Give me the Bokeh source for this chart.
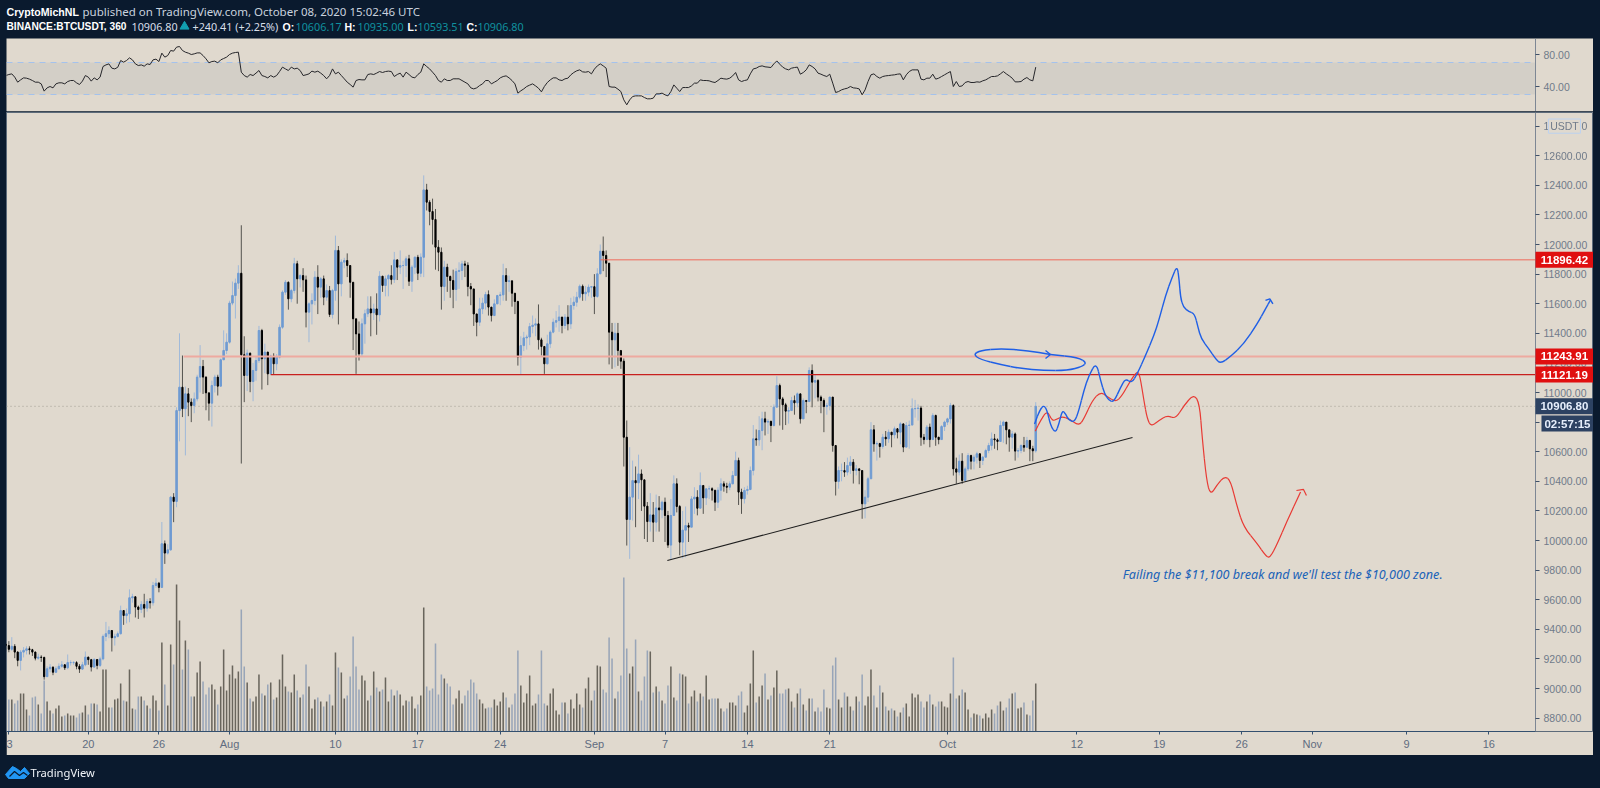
from bokeh.plotting import figure
from bokeh.layouts import column
from bokeh.core.properties import value
from bokeh.models import (Range1d, LinearAxis, FixedTicker, NumeralTickFormatter, Label,
                          BoxAnnotation)
from bokeh.embed import file_html
from bokeh.resources import INLINE

# ---- 6h bars, from 13 Jul 2020; days counted from 1 Aug 2020 ----
closes = [
 9290,9265,9285,9246,9190,9246,9258,9268,9262,9246,
 9205,9212,9210,9080,9133,9144,9110,9133,9150,9160,
 9140,9175,9175,9175,9150,9131,9160,9212,9195,9145,
 9196,9156,9200,9352,9370,9392,9343,9352,9370,9527,
 9493,9505,9613,9620,9550,9534,9568,9543,9588,9579,
 9696,9712,9683,9978,9915,9937,10293,10264,10878,11036,
 10890,10991,10935,10912,10957,11104,11176,11104,10998,10928,
 11047,11104,11043,11221,11284,11340,11604,11655,11739,11806,
 11255,11115,11266,11074,11149,11216,11419,11228,11273,11126,
 11246,11194,11239,11441,11678,11745,11633,11689,11870,11768,
 11790,11761,11543,11599,11622,11779,11712,11768,11644,11689,
 11527,11689,11960,11734,11881,11892,11858,11745,11498,11396,
 11261,11464,11532,11565,11538,11565,11525,11786,11723,11768,
 11790,11763,11896,11847,11858,11858,11903,11752,11847,11914,
 11806,11914,12369,12286,12223,12169,11982,11948,11716,11847,
 11784,11757,11696,11818,11825,11869,11860,11716,11700,11531,
 11475,11565,11604,11662,11577,11520,11599,11655,11660,11790,
 11750,11755,11671,11615,11239,11317,11369,11375,11446,11455,
 11464,11356,11311,11194,11329,11408,11475,11486,11510,11453,
 11509,11464,11588,11610,11644,11718,11667,11678,11712,11715,
 11649,11802,11955,11926,11874,11408,11356,11400,11284,11212,
 10698,10142,10293,10405,10390,10450,10410,10232,10128,10173,
 10124,10220,10207,10259,10169,9969,10169,10383,10230,9989,
 10070,10101,10090,10281,10293,10218,10372,10288,10349,10350,
 10340,10259,10340,10383,10367,10360,10383,10439,10541,10327,
 10282,10338,10345,10473,10687,10680,10743,10822,10800,10805,
 10777,10901,11047,10957,10917,10874,10878,10946,10930,10991,
 10822,10946,10939,11149,11070,11081,10969,10946,10905,10912,
 10969,10642,10399,10473,10473,10462,10507,10529,10473,10484,
 10473,10248,10293,10417,10748,10653,10655,10635,10698,10687,
 10732,10714,10755,10732,10788,10631,10777,10780,10890,10892,
 10895,10698,10682,10766,10682,10845,10698,10682,10770,10800,
 10822,10912,10484,10462,10536,10406,10484,10574,10536,10563,
 10586,10541,10563,10608,10642,10687,10680,10669,10777,10800,
 10748,10698,10720,10604,10608,10642,10630,10676,10620,10606,
 10906.8]

highs = [
 9310,9320,9347,9300,9252,9260,9280,9285,9285,9268,
 9250,9235,9225,9215,9150,9165,9150,9150,9170,9185,
 9165,9230,9190,9185,9185,9165,9180,9250,9215,9200,
 9205,9190,9215,9365,9450,9420,9395,9370,9385,9560,
 9530,9540,9670,9640,9620,9560,9590,9640,9605,9610,
 9720,9745,9720,10125,10000,9975,10300,10320,10900,11400,
 11250,11040,11030,10960,11000,11120,11320,11220,11110,10990,
 11080,11120,11120,11230,11420,11400,11620,11750,11770,11860,
 12130,11380,11290,11270,11200,11240,11450,11430,11330,11275,
 11255,11265,11260,11460,11690,11760,11750,11700,11910,11890,
 11800,11840,11790,11610,11670,11820,11860,11780,11790,11730,
 11720,11700,12060,11990,11900,11910,11940,11790,11640,11450,
 11480,11500,11560,11650,11650,11600,11670,11820,11780,11790,
 11800,11860,11950,11900,11960,11890,11920,11930,11860,11920,
 11930,11940,12467,12410,12300,12310,12240,12030,11980,11890,
 11870,11790,11830,11840,11880,11890,11890,11880,11740,11600,
 11530,11640,11640,11680,11690,11560,11630,11660,11680,11870,
 11840,11790,11730,11640,11620,11380,11410,11390,11470,11520,
 11500,11595,11370,11260,11390,11420,11500,11550,11590,11510,
 11530,11590,11640,11650,11680,11730,11730,11720,11730,11720,
 11800,11840,12000,12054,11960,11460,11470,11470,11470,11230,
 11230,10811,10631,10540,10500,10580,10480,10300,10260,10320,
 10260,10310,10300,10270,10290,10200,10280,10440,10420,10240,
 10200,10230,10120,10300,10360,10340,10460,10370,10350,10370,
 10360,10300,10360,10420,10400,10390,10400,10470,10600,10560,
 10350,10360,10370,10500,10780,10750,10840,10870,10870,10820,
 10810,10920,11110,11060,10970,10930,10900,10970,10980,11000,
 10990,10960,10950,11170,11190,11120,11090,10980,10960,10930,
 10970,10970,10480,10500,10520,10530,10560,10570,10550,10510,
 10490,10430,10340,10430,10800,10780,10670,10660,10720,10740,
 10750,10730,10770,10760,10800,10790,10800,10810,10960,10950,
 10920,10910,10720,10780,10790,10860,10850,10700,10780,10810,
 10830,10930,10920,10560,10580,10590,10500,10590,10580,10580,
 10600,10590,10570,10620,10660,10730,10720,10690,10810,10810,
 10780,10740,10740,10730,10625,10650,10700,10700,10680,10640,
 10935]

lows = [
 9250,9245,9255,9205,9150,9122,9210,9230,9230,9220,
 9190,9195,9180,9060,9080,9110,9090,9105,9130,9140,
 9125,9130,9155,9160,9130,9105,9125,9150,9160,9115,
 9140,9130,9145,9190,9320,9340,9250,9290,9345,9365,
 9430,9440,9448,9580,9480,9470,9510,9480,9520,9540,
 9560,9680,9650,9690,9842,9905,9930,10124,10225,10670,
 10834,10575,10840,10800,10860,10940,11000,10990,10880,10810,
 10770,11000,10980,11040,11220,11260,11330,11590,11500,11700,
 10520,10935,11010,11002,10941,11080,11200,11020,11130,11050,
 11120,11120,11150,11230,11430,11660,11560,11610,11670,11600,
 11710,11680,11440,11340,11460,11590,11530,11640,11590,11620,
 11510,11500,11620,11460,11650,11840,11780,11640,11287,11126,
 11216,11240,11330,11510,11380,11490,11390,11480,11680,11650,
 11650,11730,11740,11760,11800,11700,11780,11720,11680,11800,
 11760,11780,11780,12230,12130,12000,11830,11820,11560,11620,
 11680,11640,11570,11620,11700,11760,11780,11650,11590,11450,
 11380,11450,11530,11560,11520,11480,11520,11600,11590,11620,
 11620,11680,11580,11530,11182,11122,11280,11290,11320,11400,
 11380,11290,11250,11126,11190,11300,11400,11440,11410,11400,
 11430,11420,11430,11560,11580,11630,11620,11620,11650,11640,
 11530,11640,11800,11820,11780,11190,11160,11170,11180,11160,
 10500,9966,9876,10135,10090,10280,10200,10010,9990,10060,
 9990,10060,10060,10150,9990,9950,9876,10220,10190,9900,
 9880,9887,9990,10120,10180,10170,10220,10180,10240,10280,
 10270,10200,10220,10270,10330,10320,10340,10380,10470,10240,
 10180,10250,10310,10340,10440,10640,10640,10610,10710,10720,
 10665,10770,10930,10777,10748,10780,10790,10880,10850,10900,
 10790,10890,10860,10980,10900,10960,10940,10860,10732,10850,
 10880,10600,10304,10350,10400,10430,10440,10450,10385,10440,
 10380,10147,10150,10260,10550,10600,10540,10560,10620,10640,
 10660,10630,10690,10690,10650,10597,10650,10620,10800,10830,
 10810,10640,10650,10680,10630,10710,10640,10650,10690,10740,
 10780,10790,10439,10383,10440,10383,10440,10470,10480,10480,
 10520,10490,10510,10560,10590,10610,10620,10610,10730,10660,
 10650,10600,10620,10540,10560,10590,10600,10640,10536,10536,
 10593.51]

volumes = [
 22,32,32,28,31,38,38,22,16,34,
 35,27,18,51,30,21,18,23,26,15,
 16,18,16,16,14,18,19,26,17,28,
 28,27,20,62,62,24,24,32,33,48,
 31,30,62,23,22,35,35,31,26,23,
 36,31,21,89,47,26,87,67,147,111,
 62,91,82,35,35,59,70,50,37,44,
 47,42,27,45,82,41,57,66,53,60,
 122,65,49,33,30,35,57,38,36,47,
 49,32,34,52,77,45,40,39,57,41,
 34,37,67,45,23,32,34,30,25,30,
 37,26,79,64,59,33,36,55,95,65,
 42,56,51,31,36,60,44,40,42,54,
 30,42,36,41,37,26,31,30,35,23,
 27,36,124,45,41,43,88,37,57,53,
 48,45,27,33,41,28,36,41,52,49,
 38,32,28,23,24,24,32,26,30,39,
 34,24,27,38,81,46,29,38,56,26,
 28,37,81,28,26,38,43,21,17,29,
 29,18,32,23,38,27,24,43,54,31,
 41,66,65,42,39,94,73,33,40,56,
 154,83,58,65,92,40,31,55,81,80,
 39,45,40,31,28,46,65,34,31,58,
 57,55,28,35,41,30,38,35,56,32,
 33,33,33,23,20,23,29,29,26,36,
 40,19,26,48,81,29,35,46,58,32,
 36,44,61,38,38,42,43,30,24,38,
 43,27,21,33,33,20,24,20,42,24,
 23,66,74,32,24,39,35,25,21,35,
 30,57,26,35,62,36,24,46,39,25,
 21,23,21,15,19,24,28,15,38,34,
 37,30,24,30,37,27,25,30,30,25,
 24,38,74,33,36,42,39,22,14,18,
 17,16,13,18,14,22,18,26,30,21,
 24,33,38,39,23,24,29,17,16,31,
 48]

rsi = [
 53.7,55,55.8,51.7,45.4,48.3,50.8,50.4,49.2,47.5,
 45.4,45.4,43.3,34.2,38.3,40,38.3,43.3,44.6,44.6,
 43.3,46.2,47.5,47.5,44.6,42.5,46.7,53.7,51.7,46.7,
 50.8,48.3,51.7,65,67,68.3,62.9,62,64,72.5,
 70.4,72.5,75.8,73.3,68.3,66.2,67,65.4,68.3,67.5,
 73.3,74.2,71.2,81.7,76.7,78.7,85,84.2,89.2,90,
 85,82.9,81.7,80,80.8,82,82,78.7,74.6,69.6,
 71.2,71.7,69.6,73.3,75,76.7,80,81.7,82.5,82.9,
 57.9,53.7,51.7,55,53.7,56.7,60,53.7,52.5,50.8,
 53.7,51.7,53.7,58.7,64.2,62,60,64.2,62,62.9,
 60,53.7,54.6,55.8,59.2,57.9,59.2,56.7,53.7,49.6,
 53.7,62,55.8,57.9,53.7,49.6,45.4,42.5,39.2,47.5,
 48.7,48.3,48.3,55,55.8,55,56.7,58.7,57.5,58.7,
 59.2,58.7,52.5,55,56.7,51.7,57.9,55,51.7,50.8,
 55,57.9,68.3,65,62,57.9,53.7,47.5,45.4,49.6,
 47.5,47.5,49.6,49.6,49.6,47.5,45.4,43.3,38.3,37,
 38.3,41.2,43.3,47.5,47.5,43.3,45.4,47.5,50.8,52.5,
 53.3,50.8,47.5,43.3,31.7,34.6,37,40,41.7,43.3,
 40.8,37.9,33.3,40,45,48.3,50.8,50.8,48.3,47.5,
 49.6,50.4,54.6,57.5,59.6,60.8,58.3,57.9,58.7,55.8,
 61.7,65.8,68.3,65.8,62.9,40,39.2,39.2,36.7,33.7,
 23.3,17.1,23.3,27.5,28.3,28.3,28.3,26.2,24.6,24.6,
 25.4,30.8,30.8,31.7,29.6,28.3,33.7,42,37.9,33.7,
 38.7,38.7,38.7,40.8,44.2,44.2,48.3,47.5,47.5,47.1,
 45.8,45,47.5,50.4,49.6,49.2,50.4,53.3,57.5,48.3,
 46.2,47.5,48.3,55.8,62,62.9,65,65.8,64.6,64.2,
 63.7,68.3,72,67.9,64.2,62,60.8,62.9,63.7,64.2,
 55.4,57.5,60.8,67,65,62,56.7,55.4,53.7,52.5,
 55.4,44.2,32.5,33.7,35.8,37,37.9,40,38.3,37.9,
 37,29.6,35.8,46.2,54.6,55.8,52.5,50.4,52.5,53.3,
 53.7,54.2,54.6,55.4,55.8,48.3,54.6,58.7,60.8,60.8,
 60.8,49.2,48.3,50.4,50.4,55.4,49.2,50.4,52.5,54.6,
 56.7,58.7,40,46.2,40,40.8,45,46.2,45,45,
 45.8,45.4,47.1,48.3,50.4,52.5,52.5,53.3,55.8,58.7,
 55.8,53.3,50.4,45.8,45.8,46.2,49.2,51.2,48.3,47.1,
 64.2]

assert len(closes) == len(highs) == len(lows) == len(volumes) == len(rsi) == 351

# drawings on the chart: day offset and price
blue_days = [68.40,68.85,69.19,69.47,69.76,70.18,70.47,70.75,71.03,71.32,71.80,72.17,72.59,73.01,73.64,74.01,74.35,74.71,75.14,75.71,76.13,76.64,77.12,77.83,78.54,78.96,79.53,80.09,80.52,80.69,80.80,81.03,81.51,82.00,82.28,82.56,83.21,83.78,84.20,85.05,86.18,87.32,88.02,88.45]
blue_prices = [10788,10883,10915,10878,10777,10725,10788,10880,10856,10811,10800,10879,11014,11115,11205,11081,10991,10946,10935,11036,11095,11063,11126,11250,11385,11487,11656,11779,11860,11757,11644,11577,11547,11532,11442,11363,11295,11228,11195,11243,11329,11464,11565,11626]
blue_head_days = [88.02,88.39,88.65]
blue_head_prices = [11622,11633,11599]
red_days = [68.46,68.91,69.47,69.90,70.32,70.75,71.32,72.17,72.59,73.30,74.01,74.57,75.28,75.85,76.55,77.12,77.35,77.69,77.97,78.31,78.96,79.67,80.38,81.09,81.94,82.42,82.64,83.01,83.35,83.92,84.54,85.05,85.62,86.18,87.32,88.02,88.39,89.02,89.87,91.00]
red_prices = [10739,10811,10880,10806,10822,10838,10822,10775,10822,10946,11005,10973,10935,10980,11081,11145,11115,10946,10822,10770,10811,10845,10822,10912,10990,10924,10698,10406,10305,10379,10435,10406,10225,10090,9978,9899,9880,9978,10135,10327]
red_head_days = [90.65,91.25,91.5]
red_head_prices = [10338,10345,10304]
loop_days = [69.75,72.13,72.81,72.47,71.2,69.16,67.2,65.5,63.8,63.2,63.8,65.5,67.8,69.75]
loop_prices = [11257,11236,11203,11176,11149,11149,11162,11189,11223,11257,11284,11297,11284,11257]
loop_head_days = [69.33,69.75,69.33]
loop_head_prices = [11284,11257,11230]
trend_days = [37.2,76.72]
trend_prices = [9865,10696]

levels = [11896.42,11243.91,11121.19]
level_starts = [31.5,-3.9,3.5]
last_price = 10906.80
timer_price = 10790
unit_price = 12800
x_ticks = [-18.75,-12,-6,0,9,16,23,31,37,44,51,61,72,79,86,92,100,107]
x_labels = ["3","20","26","Aug","10","17","24","Sep","7","14","21","Oct","12","19","26","Nov","9","16"]
price_ticks = [8800,9000,9200,9400,9600,9800,10000,10200,10400,10600,10800,11000,11200,11400,11600,11800,12000,12200,12400,12600,12800]

DARK = "#0a1a2e"; PANEL = "#e0d9ce"; BAND = "#d3cfc7"
TICK = "#707b8a"; AX = "#7d8794"; FONT = "Liberation Sans"
HFONT = "Noto Sans"
BLUE = "#1f5fe6"; RED = "#e83a34"; UP = "#6f9bd2"; UPW = "#94b4dc"; DOWN = "#000000"; DOWNW = "#3c3c38"
XR = (-18.95, 115.89)     # the frame runs under the price scale
AXX = 110.96              # where the price scale stands

days = [-19 + k / 4 for k in range(len(closes))]
opens = [9300] + closes[:-1]
up = [c >= o for c, o in zip(closes, opens)]

# ---- header ----
hd = figure(width=1600, height=38, x_range=(0, 1600), y_range=(38, 0), x_axis_type=None, y_axis_type=None,
            toolbar_location=None, output_backend="svg", min_border=0, outline_line_color=None,
            background_fill_color=DARK, border_fill_color=DARK)
hd.grid.visible = False
def hlabel(x, y, txt, color="#e4eaf2", bold=False, size="10.8px", font=HFONT):
    hd.add_layout(Label(x=x, y=y, text=txt, text_color=color, text_font=font, text_font_size=size,
                        text_font_style="bold" if bold else "normal", text_baseline="middle"))
hlabel(6, 11, "CryptoMichNL", "#ffffff", True, "10.6px", FONT)
hlabel(82, 11, "published on TradingView.com, October 08, 2020 15:02:46 UTC", "#c9d2de", False, "11.5px")
hlabel(6, 26, "BINANCE:BTCUSDT, 360", "#ffffff", True, "10.2px", FONT)
hlabel(131, 26, "10906.80", "#d8dfe9")
hd.scatter([184], [26], marker="triangle", size=9, color="#12a0b0")
hlabel(192, 26, "+240.41 (+2.25%)", "#d8dfe9")
TEAL = "#10919f"
for x, t in ((282, "O:"), (344, "H:"), (407, "L:"), (466, "C:")):
    hlabel(x, 26, t, "#ffffff", True, "10.5px", FONT)
for x, t in ((295, "10606.17"), (357, "10935.00"), (417, "10593.51"), (477, "10906.80")):
    hlabel(x, 26, t, TEAL)

def price_axis(ticks):
    a = LinearAxis(ticker=FixedTicker(ticks=ticks), formatter=NumeralTickFormatter(format="0.00"), fixed_location=AXX)
    a.major_label_text_color = TICK; a.major_label_text_font = FONT; a.major_label_text_font_size = "10.5px"
    a.axis_line_color = AX; a.major_tick_line_color = "#3f5068"; a.major_tick_out = 4; a.major_tick_in = 0
    a.minor_tick_line_color = None; a.major_label_standoff = 4
    return a

# ---- RSI pane ----
rs = figure(width=1587, height=73, x_range=Range1d(*XR), y_range=Range1d(8.75, 100), x_axis_type=None,
            y_axis_type=None, toolbar_location=None, output_backend="svg", min_border=0,
            margin=(0, 7, 0, 6), background_fill_color=PANEL, border_fill_color=PANEL,
            outline_line_color=None)
rs.grid.visible = False
rs.add_layout(BoxAnnotation(right=AXX, bottom=30, top=70, fill_color=BAND, fill_alpha=1, line_color=None, level="underlay"))
rs.segment([XR[0], XR[0]], [30, 70], [AXX, AXX], [30, 70], line_color="#a4c2ec", line_width=1, line_dash="6 5")
rs.line(days, rsi, line_color="#26262a", line_width=1)
rs.add_layout(price_axis([40, 80]), "right")

# ---- main pane ----
mn = figure(width=1587, height=644, x_range=Range1d(*XR), y_range=Range1d(8709.5, 12892),
            x_axis_type=None, y_axis_type=None, toolbar_location=None, output_backend="svg",
            min_border=0, min_border_top=1, min_border_bottom=24,
            margin=(0, 7, 0, 6), background_fill_color=PANEL, border_fill_color=PANEL,
            outline_line_color="#5d6b7a")
mn.grid.visible = False
mn.extra_y_ranges = {"vol": Range1d(0, 619)}

vol_x_u = [d for d, u in zip(days, up) if u]; vol_u = [v for v, u in zip(volumes, up) if u]
vol_x_d = [d for d, u in zip(days, up) if not u]; vol_d = [v for v, u in zip(volumes, up) if not u]
mn.vbar(vol_x_d, width=0.13, top=vol_d, bottom=0, y_range_name="vol", fill_color="#98a5b8", line_color=None)
mn.vbar(vol_x_u, width=0.13, top=vol_u, bottom=0, y_range_name="vol", fill_color="#69655c", line_color=None)

mn.line([XR[0], AXX], [last_price, last_price], line_color="#a49f94", line_width=1, line_dash="1 3")

def pick(seq, flag): return [s for s, u in zip(seq, up) if u == flag]
for flag, wc, bc, bw in ((True, UPW, UP, 0.13), (False, DOWNW, DOWN, 0.1)):
    xs = pick(days, flag)
    mn.segment(xs, pick(lows, flag), xs, pick(highs, flag), line_color=wc, line_width=1, line_alpha=0.85)
    mn.vbar(xs, width=bw, top=pick(closes, flag), bottom=pick(opens, flag), fill_color=bc, line_color=bc, line_width=1)

for lv, st, col, w in zip(levels, level_starts, ("#ef6a5c", "#eeaaa0", "#c8201e"), (1, 2, 1.2)):
    mn.line([st, AXX], [lv, lv], line_color=col, line_width=w)

mn.line(trend_days, trend_prices, line_color="#1e1e1e", line_width=1.1)

def smooth(xs, ys, color, width):
    """Freehand strokes: each drawn point is the control point of a quadratic piece."""
    mx = [xs[0]] + [(a + b) / 2 for a, b in zip(xs[:-1], xs[1:])] + [xs[-1]]
    my = [ys[0]] + [(a + b) / 2 for a, b in zip(ys[:-1], ys[1:])] + [ys[-1]]
    mn.quadratic(mx[:-1], my[:-1], mx[1:], my[1:], xs, ys, line_color=color, line_width=width)

smooth(red_days, red_prices, RED, 1.2)
mn.line(red_head_days, red_head_prices, line_color=RED, line_width=1.2)
smooth(blue_days, blue_prices, BLUE, 1.4)
mn.line(blue_head_days, blue_head_prices, line_color=BLUE, line_width=1.4)
smooth(loop_days, loop_prices, BLUE, 1.5)
mn.line(loop_head_days, loop_head_prices, line_color=BLUE, line_width=1.4)

mn.add_layout(Label(x=75.9, y=9772, text="Failing the $11,100 break and we'll test the $10,000 zone.",
                    text_color="#1a62b8", text_font="Noto Sans",
                    text_font_size="12.6px", text_font_style="italic", text_baseline="middle"))

ya = price_axis(price_ticks)
ya.major_label_overrides = {12800: "1" + "\u00a0" * 11 + "0"}
mn.add_layout(ya, "right")

xa = LinearAxis(ticker=FixedTicker(ticks=x_ticks), major_label_overrides=dict(zip(x_ticks, x_labels)),
                bounds=(XR[0], AXX))
xa.major_label_text_color = "#5f6c80"; xa.major_label_text_font = FONT; xa.major_label_text_font_size = "11px"
xa.axis_line_color = "#34506f"; xa.major_tick_line_color = "#34506f"; xa.major_tick_out = 3; xa.major_tick_in = 0
xa.minor_tick_line_color = None; xa.major_label_standoff = 3
mn.add_layout(xa, "below")

# ---- price tags over the price scale ----
H = 54
mn.quad(left=AXX, right=XR[1], bottom=[v - H for v in levels], top=[v + H for v in levels],
        fill_color="#e00f0f", line_color=None, level="overlay")
mn.quad(left=AXX, right=XR[1], bottom=[last_price - H], top=[last_price + H], fill_color="#2d4262", line_color=None, level="overlay")
mn.quad(left=AXX + 0.51, right=XR[1], bottom=[timer_price - H], top=[timer_price + H], fill_color="#2d4262", line_color=None, level="overlay")
mn.quad(left=AXX + 1.1, right=AXX + 3.82, bottom=[unit_price - 48], top=[unit_price + 48], fill_color=PANEL, line_color="#bcd2f0", line_width=1, level="overlay")
def ttext(x, y, s, color, bold=True, size="11.5px"):
    mn.text([x], [y], text=[s], text_color=color, text_font=value(FONT), text_font_size=size, text_align="center",
            text_baseline="middle", text_font_style="bold" if bold else "normal", level="overlay")
for v in levels:
    ttext(AXX + 2.46, v, f"{v:.2f}", "#ffffff")
ttext(AXX + 2.46, last_price, f"{last_price:.2f}", "#e6eefb")
ttext(AXX + 2.72, timer_price, "02:57:15", "#e6eefb")
ttext(AXX + 2.46, unit_price, "USDT", TICK, False, "10.5px")

# ---- footer ----
ft = figure(width=1600, height=33, x_range=(0, 1600), y_range=(788, 755), x_axis_type=None, y_axis_type=None,
            toolbar_location=None, output_backend="svg", min_border=0, outline_line_color=None,
            background_fill_color=DARK, border_fill_color=DARK)
ft.grid.visible = False
ft.patch([5, 12, 16, 20, 24, 29, 24, 8], [774, 766, 768, 771, 767, 773, 778, 778], color="#2196f3")
ft.line([9, 14, 19, 23, 27], [776, 771, 775, 772, 775], line_color=DARK, line_width=1.2)
ft.add_layout(Label(x=30, y=772, text="TradingView", text_color="#f0f4f8", text_font=HFONT, text_font_size="11.2px",
                    text_baseline="middle"))

page = column(hd, rs, mn, ft, spacing=0, width=1600, height=788,
              styles={"position": "fixed", "left": "0", "top": "0", "background-color": DARK})
open("out.html", "w").write(file_html(page, INLINE))
